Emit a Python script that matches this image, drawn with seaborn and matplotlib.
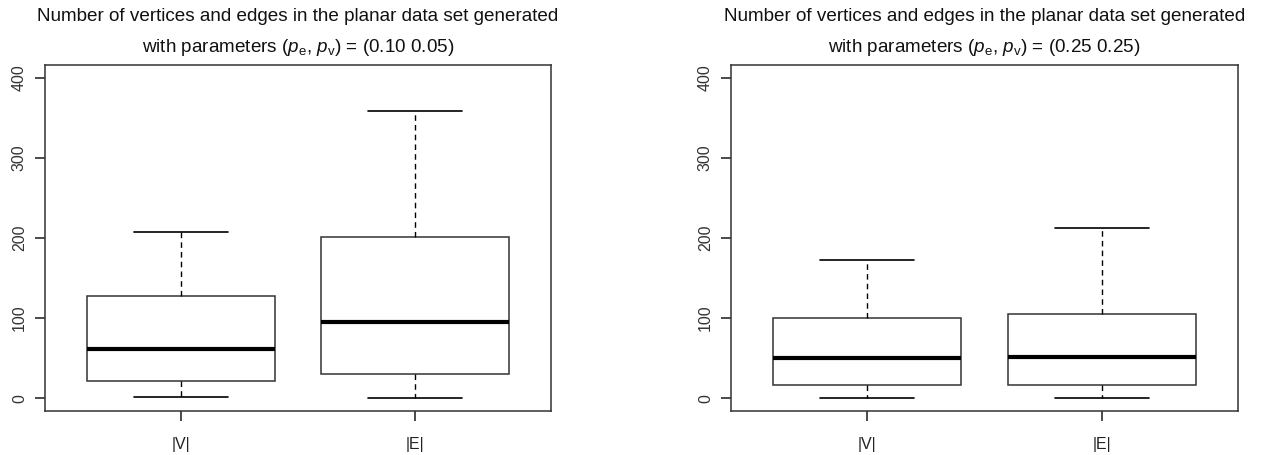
import pandas as pd
import matplotlib
matplotlib.use("Agg")
import matplotlib.pyplot as plt
import seaborn as sns

# five-number summaries: min, Q1, median, Q3, max
measures = ["|V|", "|E|"]
left_V = [1, 21, 62, 127, 208]
left_E = [0, 30, 95, 201, 359]
right_V = [0, 17, 50, 100, 173]
right_E = [0, 16, 51, 105, 213]
params = ["(0.10 0.05)", "(0.25 0.25)"]
yticks = [0, 100, 200, 300, 400]

# long form data, one row per value
rows = []
for panel, (v, e) in enumerate([(left_V, left_E), (right_V, right_E)]):
    for m, vals in zip(measures, [v, e]):
        for x in vals:
            rows.append({"panel": panel, "measure": m, "value": x})
df = pd.DataFrame(rows)

sns.set_theme(style="ticks")
plt.rcParams["font.family"] = ["Liberation Sans", "DejaVu Sans"]
plt.rcParams["mathtext.fontset"] = "custom"
plt.rcParams["mathtext.rm"] = "Liberation Sans"
plt.rcParams["mathtext.it"] = "Liberation Sans:italic"

fig = plt.figure(figsize=(12.7, 4.55), dpi=100)
W, H = 1270, 455
boxes = [(45, 65, 506, 346), (731, 65, 507, 346)]

for panel, (x0, y0, w, h) in enumerate(boxes):
    ax = fig.add_axes([x0 / W, 1 - (y0 + h) / H, w / W, h / H])
    sub = df[df["panel"] == panel]
    sns.boxplot(data=sub, x="measure", y="value", order=measures, ax=ax,
                whis=(0, 100), width=0.8, showfliers=False,
                color="white", linecolor="#333333", linewidth=1.1,
                medianprops={"color": "black", "linewidth": 3},
                whiskerprops={"color": "black", "linestyle": (0, (4, 3)), "linewidth": 1},
                capprops={"color": "black", "linewidth": 1.2})
    ax.set_xlim(-0.58, 1.58)
    ax.set_ylim(-16, 416)
    ax.set_yticks(yticks)
    ax.set_yticklabels([str(t) for t in yticks], rotation=90, va="center",
                       fontsize=11.5, color="#333333")
    ax.tick_params(axis="x", labelsize=11.5, labelcolor="#222222", length=7, pad=12, color="#333333")
    ax.tick_params(axis="y", length=7, pad=6, color="#333333")
    ax.set_xlabel("")
    ax.set_ylabel("")
    for s in ax.spines.values():
        s.set_visible(True)
        s.set_color("#333333")
        s.set_linewidth(1.1)
    ax.set_title("Number of vertices and edges in the planar data set generated\n"
                 r"with parameters ($p_\mathrm{e}$, $p_\mathrm{v}$) = " + params[panel],
                 fontsize=13.6, linespacing=1.85, pad=9, color="#111111")

fig.savefig("out.png", dpi=100, facecolor="white")
